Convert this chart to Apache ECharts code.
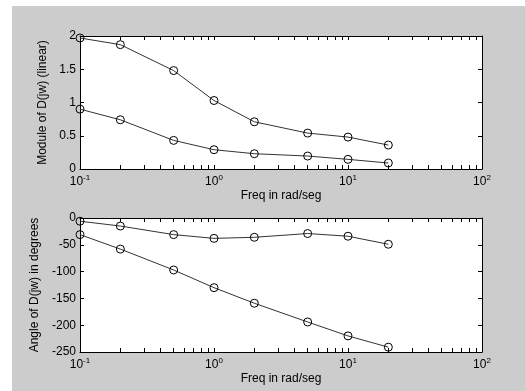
<!DOCTYPE html>
<html>
<head>
<meta charset="utf-8">
<script src="https://cdn.jsdelivr.net/npm/echarts@6/dist/echarts.min.js"></script>
<style>
    body { margin: 0; background: #fff; }
    #paper { position: absolute; left: 12px; top: 6px; width: 513px; height: 385px; background: #cccccc; }
    #chart { position: absolute; left: 0; top: 0; width: 525px; height: 391px; }
</style>
</head>
<body>
<div id="paper"></div>
<div id="chart"></div>
<script>
// frequencies in rad/seg
const freq = [0.1, 0.2, 0.5, 1, 2, 5, 10, 20];
// module of D(jw)
const modUpper = [1.97, 1.87, 1.48, 1.03, 0.71, 0.54, 0.48, 0.36];
const modLower = [0.90, 0.74, 0.43, 0.29, 0.23, 0.195, 0.145, 0.09];
// angle of D(jw) in degrees
const angUpper = [-6, -15, -31, -38, -36, -29, -34, -49];
const angLower = [-31, -58, -97, -130, -159, -194, -220, -241];

const majorX = [0.1, 1, 10, 100];
// log ticks 1..9 per decade
const logTicks = [];
for (let d = 0; d < 3; d++) {
    for (let k = 1; k <= 9; k++) logTicks.push(+(k * Math.pow(10, d - 1)).toPrecision(3));
}
logTicks.push(100);

const font = 'Liberation Sans';
const txt = {color: '#000', fontFamily: font, fontSize: 12};

const pairs = (ys) => freq.map((f, i) => [f, ys[i]]);

const xAxisFor = (gridIndex, position, labels) => ({
    type: 'log',
    logBase: 10,
    gridIndex: gridIndex,
    position: position,
    min: 0.1,
    max: 100,
    name: labels ? 'Freq in rad/seg' : '',
    nameLocation: 'middle',
    nameGap: 21,
    nameTextStyle: txt,
    axisLine: {show: true, onZero: false, lineStyle: {color: '#000', width: 1}},
    axisTick: {show: true, inside: true, length: 4, customValues: logTicks, lineStyle: {color: '#000'}},
    axisLabel: {
        show: labels,
        margin: 5,
        customValues: majorX,
        formatter: (v) => '{b|10}{s|' + Math.round(Math.log10(v)) + '}',
        rich: {
            b: {color: '#000', fontFamily: font, fontSize: 12},
            s: {color: '#000', fontFamily: font, fontSize: 8, padding: [0, 0, 8, 0]}
        }
    },
    splitLine: {show: false},
    minorTick: {show: false}
});

const yAxisFor = (gridIndex, position, min, max, step, name, gap) => ({
    type: 'value',
    gridIndex: gridIndex,
    position: position,
    min: min,
    max: max,
    interval: step,
    name: name,
    nameLocation: 'middle',
    nameGap: gap,
    nameTextStyle: txt,
    axisLine: {show: true, onZero: false, lineStyle: {color: '#000', width: 1}},
    axisTick: {show: true, inside: true, length: 4, lineStyle: {color: '#000'}},
    axisLabel: {show: name !== '', margin: 4, color: '#000', fontFamily: font, fontSize: 12},
    splitLine: {show: false}
});

const seriesFor = (ys, xi, yi) => ({
    type: 'line',
    xAxisIndex: xi,
    yAxisIndex: yi,
    data: pairs(ys),
    symbol: 'circle',
    symbolSize: 8,
    lineStyle: {color: '#333', width: 1},
    itemStyle: {color: 'rgba(0,0,0,0)', borderColor: '#000', borderWidth: 1},
    emphasis: {disabled: true}
});

const chart = echarts.init(document.getElementById('chart'), null, {renderer: 'canvas'});
chart.setOption({
    animation: false,
    backgroundColor: 'transparent',
    grid: [
        {left: 80, top: 36, width: 402, height: 133, show: true, backgroundColor: '#fff', borderWidth: 0},
        {left: 80, top: 218, width: 402, height: 134, show: true, backgroundColor: '#fff', borderWidth: 0}
    ],
    xAxis: [
        xAxisFor(0, 'bottom', true),
        xAxisFor(0, 'top', false),
        xAxisFor(1, 'bottom', true),
        xAxisFor(1, 'top', false)
    ],
    yAxis: [
        yAxisFor(0, 'left', 0, 2, 0.5, 'Module of D(jw) (linear)', 27),
        yAxisFor(0, 'right', 0, 2, 0.5, '', 0),
        yAxisFor(1, 'left', -250, 0, 50, 'Angle of D(jw) in degrees', 36),
        yAxisFor(1, 'right', -250, 0, 50, '', 0)
    ],
    series: [
        seriesFor(modUpper, 0, 0),
        seriesFor(modLower, 0, 0),
        seriesFor(angUpper, 2, 2),
        seriesFor(angLower, 2, 2)
    ]
});
</script>
</body>
</html>
